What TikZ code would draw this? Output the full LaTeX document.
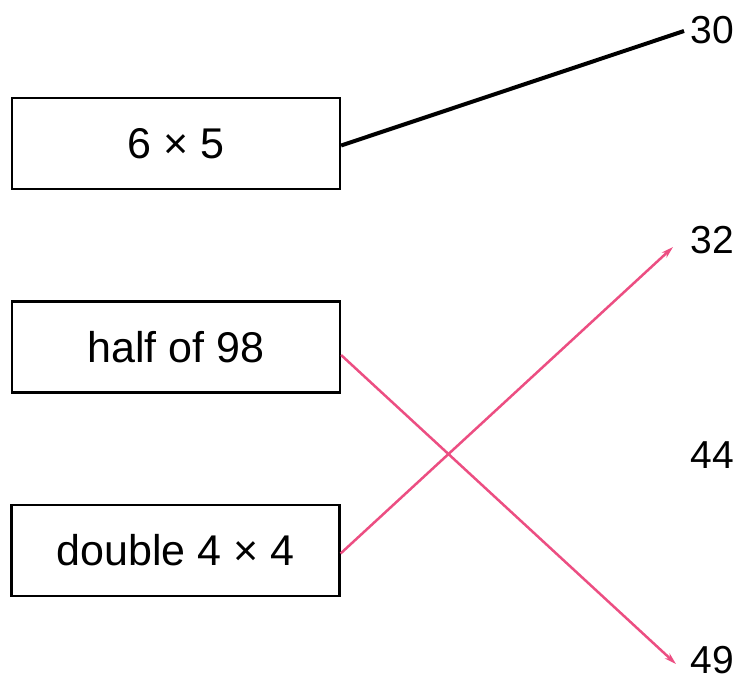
\documentclass[tikz,border=0pt]{standalone}
\usepackage{fontspec}
\setmainfont{Liberation Sans}
\usetikzlibrary{arrows.meta}
\definecolor{pinkline}{RGB}{236,78,130}
\begin{document}
\begin{tikzpicture}[x=1pt,y=-1pt,
  box/.style={draw=black,line width=2.2pt,minimum width=328pt,minimum height=91pt,inner sep=0pt,font=\fontsize{43}{48}\selectfont},
  num/.style={inner sep=0pt,font=\fontsize{39}{44}\selectfont},
  blackline/.style={line width=4pt,black},
  pinkarrow/.style={line width=2.5pt,pinkline,-{Stealth[length=12pt,width=7pt]}}]
\useasboundingbox (0,0) rectangle (739,681);
\node[box] (b1) at (176,143.5) {6 × 5};
\node[box] (b2) at (176,347) {half of 98};
\node[box] (b3) at (175.5,550.5) {double 4 × 4};
\node[num] (n30) at (712,30) {30};
\node[num] (n32) at (712,240) {32};
\node[num] (n44) at (712,455) {44};
\node[num] (n49) at (712,660) {49};
\coordinate (c30) at (684,31);
\coordinate (c32) at (673,247);
\coordinate (c49) at (676,664);
\draw[blackline] ([yshift=-2pt]b1.east) -- (c30);
\draw[pinkarrow] ([yshift=-8pt]b2.east) -- (c49);
\draw[pinkarrow] ([yshift=-3pt]b3.east) -- (c32);
\end{tikzpicture}
\end{document}
